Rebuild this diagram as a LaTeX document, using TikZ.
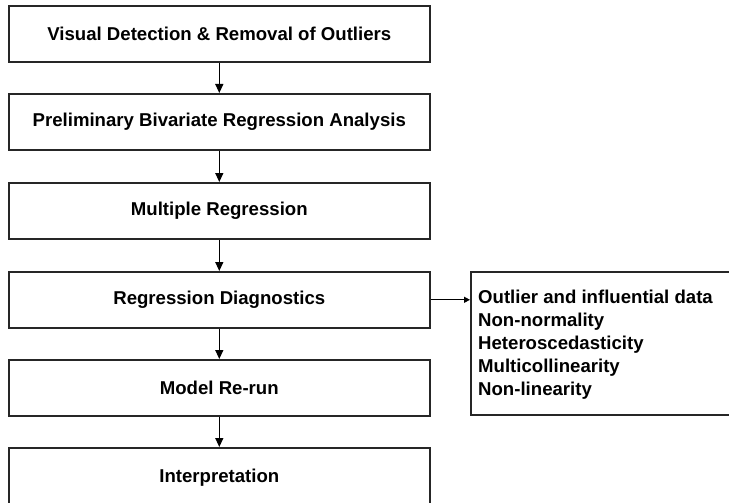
\documentclass[tikz,border=0pt]{standalone}
\usepackage{fontspec}
\setmainfont{Liberation Sans}
\usetikzlibrary{arrows.meta}
\begin{document}
\begin{tikzpicture}[x=1pt,y=-1pt,
  stepbox/.style={draw=black!85,line width=1.6pt,minimum width=421pt,minimum height=56pt,inner sep=0pt,font=\fontsize{18.6}{22}\selectfont\bfseries,anchor=north west},
  item/.style={anchor=base west,inner sep=0pt,font=\fontsize{18.6}{22}\selectfont\bfseries},
  arr/.style={line width=1.3pt,-{Triangle[length=9pt,width=8pt]}},
  sarr/.style={line width=1.3pt,-{Triangle[length=6pt,width=6pt]}}]
\useasboundingbox (0,0) rectangle (729,503);
\clip (0,0) rectangle (729,503);
\fill[white] (0,0) rectangle (729,503);
\node[stepbox] (b1) at (8,5) {Visual Detection \& Removal of Outliers};
\node[stepbox] (b2) at (8,93) {Preliminary Bivariate Regression Analysis};
\node[stepbox] (b3) at (8,182) {Multiple Regression};
\node[stepbox] (b4) at (8,271) {Regression Diagnostics};
\node[stepbox] (b5) at (8,359) {Model Re-run};
\node[stepbox,minimum height=60pt] (b6) at (8,447) {Interpretation};
\node[draw=black!85,line width=1.6pt,anchor=north west,minimum width=280pt,minimum height=143pt,inner sep=0pt] (r) at (470,271) {};
\node[item] (t1) at (478,303) {Outlier and influential data};
\node[item] (t2) at (478,326.2) {Non-normality};
\node[item] (t3) at (478,349.4) {Heteroscedasticity};
\node[item] (t4) at (478,372.6) {Multicollinearity};
\node[item] (t5) at (478,395.8) {Non-linearity};
\draw[arr] (b1) -- (b2);
\draw[arr] (b2) -- (b3);
\draw[arr] (b3) -- (b4);
\draw[arr] (b4) -- (b5);
\draw[arr] (b5) -- (b6);
\draw[sarr] (b4.east) -- (b4.east -| r.west);
\end{tikzpicture}
\end{document}
